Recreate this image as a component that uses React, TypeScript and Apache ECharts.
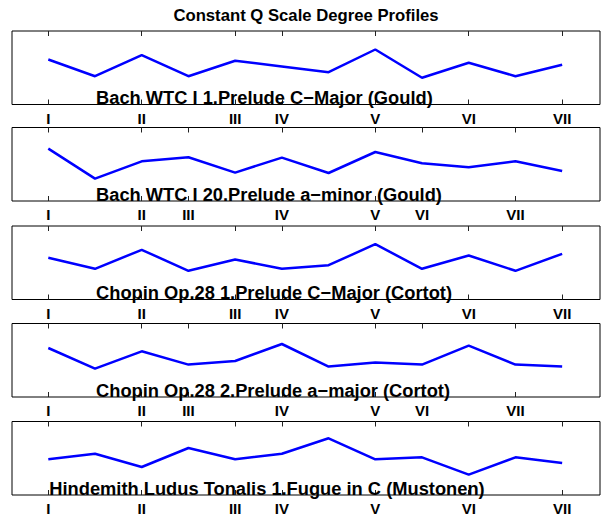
import { useEffect, useRef } from 'react';
import * as echarts from 'echarts';

// chromatic steps above the tonic (0..11)
const chromaticSteps = [0, 1, 2, 3, 4, 5, 6, 7, 8, 9, 10, 11];
const majorDegrees = [0, 2, 4, 5, 7, 9, 11];
const minorDegrees = [0, 2, 3, 5, 7, 8, 10];
const romanLabels = ['I', 'II', 'III', 'IV', 'V', 'VI', 'VII'];

const chartTitle = 'Constant Q Scale Degree Profiles';
const pieceTitles = [
  'Bach WTC I 1.Prelude C\u2212Major (Gould)',
  'Bach WTC I 20.Prelude a\u2212minor (Gould)',
  'Chopin Op.28 1.Prelude C\u2212Major (Cortot)',
  'Chopin Op.28 2.Prelude a\u2212major (Cortot)',
  'Hindemith Ludus Tonalis 1.Fugue in C (Mustonen)',
];

// profile values (arbitrary units)
const bachPreludeC = [45, 28.3, 49.3, 28.3, 43.7, 38, 32.3, 55, 26.7, 41.7, 28.3, 39.7];
const bachPreludeA = [52.4, 22.4, 39.7, 43.7, 28.4, 43.4, 28, 49, 37.7, 33.7, 39.7, 30];
const chopinPreludeC = [41.7, 30.7, 49.7, 28.7, 40, 30.7, 34.3, 55.3, 30.7, 44, 28.7, 45.7];
const chopinPreludeA = [49, 28.4, 45.7, 32.4, 36, 53, 30.4, 34.4, 32.4, 51.4, 32.4, 30.4];
const hindemithFugueC = [35.7, 41.3, 28, 47, 35.7, 41.3, 56.7, 35.7, 37.7, 20.3, 37.7, 32];

const profiles = [bachPreludeC, bachPreludeA, chopinPreludeC, chopinPreludeA, hindemithFugueC];
const panelDegrees = [majorDegrees, minorDegrees, majorDegrees, minorDegrees, majorDegrees];
const titleAnchorStep = [1, 1, 1, 1, 0];

const X_MIN = -0.777;
const X_MAX = 11.81;
const Y_MIN = 0;
const Y_MAX = 73.5;

const FONT = '"Liberation Sans", Arial, Helvetica, sans-serif';

export default function App() {
  const ref = useRef<HTMLDivElement>(null);

  useEffect(() => {
    if (!ref.current) return;
    const chart = echarts.init(ref.current, undefined, { renderer: 'svg' });

    const panelTops = [31, 127.5, 226, 323.5, 421.5];
    const panelHeight = 73.5;

    const grids = panelTops.map((t) => ({
      left: 12,
      right: 3,
      top: t,
      height: panelHeight,
      show: true,
      borderColor: '#000',
      borderWidth: 1,
      backgroundColor: 'transparent',
      containLabel: false,
    }));

    const xAxes: any[] = [];
    panelDegrees.forEach((deg, i) => {
      xAxes.push({
        type: 'value',
        gridIndex: i,
        position: 'bottom',
        min: X_MIN,
        max: X_MAX,
        axisLine: { show: false },
        axisTick: {
          show: true,
          inside: true,
          length: 5,
          customValues: deg,
          lineStyle: { color: '#222', width: 1 },
        },
        axisLabel: {
          show: true,
          customValues: deg,
          formatter: (v: number) => romanLabels[deg.indexOf(Math.round(v))] ?? '',
          fontFamily: FONT,
          fontWeight: 'bold',
          fontSize: 15,
          color: '#000',
          margin: 6,
        },
        splitLine: { show: false },
      });
      xAxes.push({
        type: 'value',
        gridIndex: i,
        position: 'top',
        min: X_MIN,
        max: X_MAX,
        axisLine: { show: false },
        axisTick: {
          show: true,
          inside: true,
          length: 5,
          customValues: deg,
          lineStyle: { color: '#222', width: 1 },
        },
        axisLabel: { show: false },
        splitLine: { show: false },
      });
    });

    const yAxes = panelDegrees.map((_, i) => ({
      type: 'value',
      gridIndex: i,
      min: Y_MIN,
      max: Y_MAX,
      axisLine: { show: false },
      axisTick: { show: false },
      axisLabel: { show: false },
      splitLine: { show: false },
    }));

    const series = profiles.map((vals, i) => ({
      type: 'line',
      xAxisIndex: i * 2,
      yAxisIndex: i,
      data: vals.map((v, k) => [chromaticSteps[k], v]),
      showSymbol: false,
      symbol: 'none',
      lineStyle: { color: '#0000ff', width: 2.5 },
      z: 3,
    }));

    chart.setOption({
      animation: false,
      backgroundColor: '#fff',
      grid: grids,
      xAxis: xAxes,
      yAxis: yAxes,
      series,
    });

    const graphics: any[] = [];
    const left = chart.convertToPixel({ gridIndex: 0 }, [X_MIN, Y_MAX]) as number[];
    const right = chart.convertToPixel({ gridIndex: 0 }, [X_MAX, Y_MAX]) as number[];
    graphics.push({
      type: 'text',
      x: (left[0] + right[0]) / 2,
      y: left[1] - 16,
      style: {
        text: chartTitle,
        fontFamily: FONT,
        fontWeight: 'bold',
        fontSize: 16.7,
        fill: '#000',
        align: 'center',
        verticalAlign: 'middle',
      },
      z: 10,
    });
    pieceTitles.forEach((t, i) => {
      const p = chart.convertToPixel({ gridIndex: i }, [titleAnchorStep[i], Y_MIN]) as number[];
      graphics.push({
        type: 'text',
        x: p[0] + 1,
        y: p[1] + 2,
        style: {
          text: t,
          fontFamily: FONT,
          fontWeight: 'bold',
          fontSize: 18.3,
          fill: '#000',
          align: 'left',
          verticalAlign: 'bottom',
        },
        z: 1,
      });
    });
    chart.setOption({ graphic: graphics });

    return () => chart.dispose();
  }, []);

  return (
    <div
      ref={ref}
      style={{ position: 'absolute', left: 0, top: 0, width: 603, height: 518 }}
    />
  );
}
